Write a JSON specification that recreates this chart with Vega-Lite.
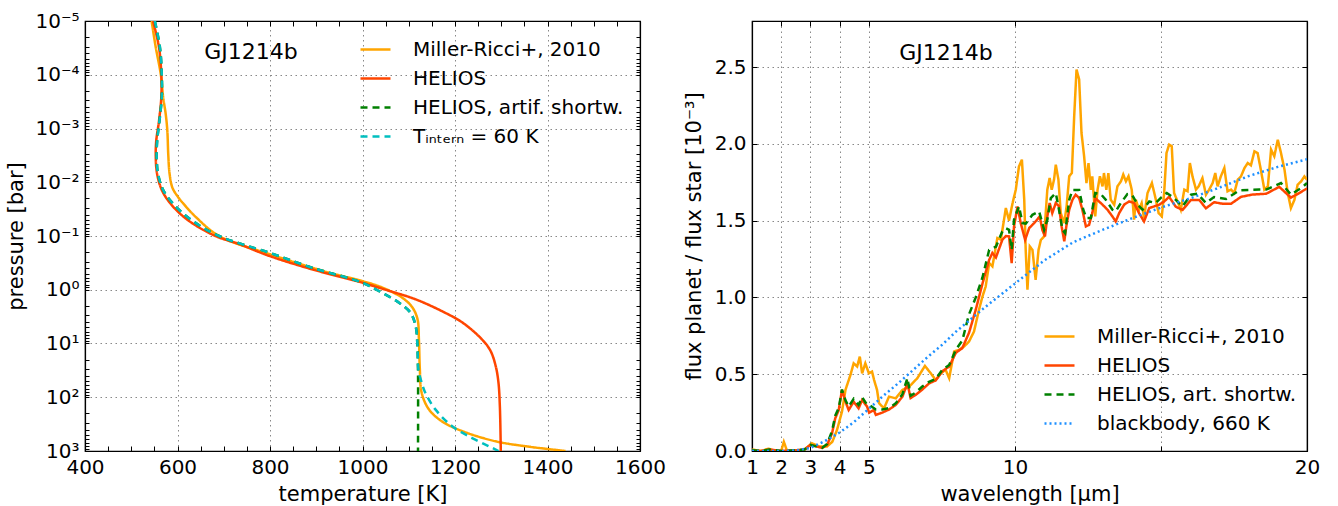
{
  "$schema": "https://vega.github.io/schema/vega-lite/v6.json",
  "background": "white",
  "padding": {"left": 5, "top": 10, "right": 5, "bottom": 5},
  "bounds": "flush",
  "spacing": 112,
  "config": {
    "font": "DejaVu Sans",
    "view": {"stroke": "black", "strokeWidth": 1.2},
    "axis": {
      "labelFont": "DejaVu Sans", "labelFontSize": 20, "labelColor": "black",
      "titleFont": "DejaVu Sans", "titleFontSize": 21, "titleFontWeight": "normal", "titleColor": "black",
      "tickColor": "black", "tickSize": -5, "tickWidth": 1,
      "domainColor": "black", "domainWidth": 1.2,
      "gridColor": "#888888", "gridDash": [1.5, 3.5], "gridWidth": 1,
      "labelPadding": 11
    },
    "legend": {
      "orient": "none", "title": null,
      "labelFont": "DejaVu Sans", "labelFontSize": 20, "labelColor": "black", "labelLimit": 0,
      "symbolType": "stroke", "symbolSize": 900, "symbolStrokeWidth": 2.5,
      "labelOffset": 21, "rowPadding": 2
    }
  },
  "datasets": {
    "tp": [
      {"series": "Miller-Ricci+, 2010", "T": 544, "P": 1e-5},
      {"series": "Miller-Ricci+, 2010", "T": 553, "P": 3.09e-5},
      {"series": "Miller-Ricci+, 2010", "T": 564, "P": 1e-4},
      {"series": "Miller-Ricci+, 2010", "T": 569, "P": 2.63e-4},
      {"series": "Miller-Ricci+, 2010", "T": 574.5, "P": 5.37e-4},
      {"series": "Miller-Ricci+, 2010", "T": 578, "P": 1.10e-3},
      {"series": "Miller-Ricci+, 2010", "T": 580, "P": 3.02e-3},
      {"series": "Miller-Ricci+, 2010", "T": 583, "P": 7.08e-3},
      {"series": "Miller-Ricci+, 2010", "T": 589, "P": 1.26e-2},
      {"series": "Miller-Ricci+, 2010", "T": 600, "P": 1.82e-2},
      {"series": "Miller-Ricci+, 2010", "T": 614, "P": 2.57e-2},
      {"series": "Miller-Ricci+, 2010", "T": 640, "P": 4.47e-2},
      {"series": "Miller-Ricci+, 2010", "T": 690, "P": 0.1},
      {"series": "Miller-Ricci+, 2010", "T": 800, "P": 0.219},
      {"series": "Miller-Ricci+, 2010", "T": 927, "P": 0.479},
      {"series": "Miller-Ricci+, 2010", "T": 1000, "P": 0.692},
      {"series": "Miller-Ricci+, 2010", "T": 1043, "P": 0.912},
      {"series": "Miller-Ricci+, 2010", "T": 1086, "P": 1.41},
      {"series": "Miller-Ricci+, 2010", "T": 1108, "P": 2.14},
      {"series": "Miller-Ricci+, 2010", "T": 1119, "P": 3.55},
      {"series": "Miller-Ricci+, 2010", "T": 1122, "P": 8.51},
      {"series": "Miller-Ricci+, 2010", "T": 1124, "P": 30.2},
      {"series": "Miller-Ricci+, 2010", "T": 1128, "P": 83.2},
      {"series": "Miller-Ricci+, 2010", "T": 1144, "P": 170},
      {"series": "Miller-Ricci+, 2010", "T": 1172, "P": 282},
      {"series": "Miller-Ricci+, 2010", "T": 1216, "P": 427},
      {"series": "Miller-Ricci+, 2010", "T": 1288, "P": 661},
      {"series": "Miller-Ricci+, 2010", "T": 1360, "P": 832},
      {"series": "Miller-Ricci+, 2010", "T": 1439, "P": 1000},

      {"series": "HELIOS", "T": 547, "P": 1e-5},
      {"series": "HELIOS", "T": 560, "P": 3.09e-5},
      {"series": "HELIOS", "T": 565, "P": 1e-4},
      {"series": "HELIOS", "T": 565, "P": 2.63e-4},
      {"series": "HELIOS", "T": 560, "P": 7.24e-4},
      {"series": "HELIOS", "T": 554, "P": 1.70e-3},
      {"series": "HELIOS", "T": 553, "P": 3.47e-3},
      {"series": "HELIOS", "T": 556, "P": 7.08e-3},
      {"series": "HELIOS", "T": 567, "P": 1.45e-2},
      {"series": "HELIOS", "T": 589, "P": 2.75e-2},
      {"series": "HELIOS", "T": 625, "P": 5.25e-2},
      {"series": "HELIOS", "T": 682, "P": 0.1},
      {"series": "HELIOS", "T": 733, "P": 0.141},
      {"series": "HELIOS", "T": 798, "P": 0.234},
      {"series": "HELIOS", "T": 891, "P": 0.417},
      {"series": "HELIOS", "T": 1000, "P": 0.741},
      {"series": "HELIOS", "T": 1050, "P": 1.0},
      {"series": "HELIOS", "T": 1115, "P": 1.51},
      {"series": "HELIOS", "T": 1172, "P": 2.51},
      {"series": "HELIOS", "T": 1216, "P": 4.07},
      {"series": "HELIOS", "T": 1259, "P": 8.51},
      {"series": "HELIOS", "T": 1277, "P": 13.8},
      {"series": "HELIOS", "T": 1288, "P": 26.3},
      {"series": "HELIOS", "T": 1294, "P": 53.7},
      {"series": "HELIOS", "T": 1297, "P": 148},
      {"series": "HELIOS", "T": 1299, "P": 1000},

      {"series": "HELIOS, artif. shortw.", "T": 551, "P": 1e-5},
      {"series": "HELIOS, artif. shortw.", "T": 562, "P": 3.09e-5},
      {"series": "HELIOS, artif. shortw.", "T": 566, "P": 1e-4},
      {"series": "HELIOS, artif. shortw.", "T": 566, "P": 2.63e-4},
      {"series": "HELIOS, artif. shortw.", "T": 561, "P": 7.24e-4},
      {"series": "HELIOS, artif. shortw.", "T": 556, "P": 1.70e-3},
      {"series": "HELIOS, artif. shortw.", "T": 555, "P": 3.47e-3},
      {"series": "HELIOS, artif. shortw.", "T": 558, "P": 7.08e-3},
      {"series": "HELIOS, artif. shortw.", "T": 570, "P": 1.45e-2},
      {"series": "HELIOS, artif. shortw.", "T": 595, "P": 2.75e-2},
      {"series": "HELIOS, artif. shortw.", "T": 633, "P": 5.25e-2},
      {"series": "HELIOS, artif. shortw.", "T": 690, "P": 0.1},
      {"series": "HELIOS, artif. shortw.", "T": 798, "P": 0.204},
      {"series": "HELIOS, artif. shortw.", "T": 891, "P": 0.389},
      {"series": "HELIOS, artif. shortw.", "T": 1000, "P": 0.741},
      {"series": "HELIOS, artif. shortw.", "T": 1043, "P": 1.15},
      {"series": "HELIOS, artif. shortw.", "T": 1079, "P": 1.74},
      {"series": "HELIOS, artif. shortw.", "T": 1104, "P": 2.69},
      {"series": "HELIOS, artif. shortw.", "T": 1115, "P": 4.79},
      {"series": "HELIOS, artif. shortw.", "T": 1118.5, "P": 9.77},
      {"series": "HELIOS, artif. shortw.", "T": 1120, "P": 31.6},
      {"series": "HELIOS, artif. shortw.", "T": 1120, "P": 1000},

      {"series": "Tᵢₙₜₑᵣₙ = 60 K", "T": 551, "P": 1e-5},
      {"series": "Tᵢₙₜₑᵣₙ = 60 K", "T": 562, "P": 3.09e-5},
      {"series": "Tᵢₙₜₑᵣₙ = 60 K", "T": 566, "P": 1e-4},
      {"series": "Tᵢₙₜₑᵣₙ = 60 K", "T": 566, "P": 2.63e-4},
      {"series": "Tᵢₙₜₑᵣₙ = 60 K", "T": 561, "P": 7.24e-4},
      {"series": "Tᵢₙₜₑᵣₙ = 60 K", "T": 556, "P": 1.70e-3},
      {"series": "Tᵢₙₜₑᵣₙ = 60 K", "T": 555, "P": 3.47e-3},
      {"series": "Tᵢₙₜₑᵣₙ = 60 K", "T": 558, "P": 7.08e-3},
      {"series": "Tᵢₙₜₑᵣₙ = 60 K", "T": 570, "P": 1.45e-2},
      {"series": "Tᵢₙₜₑᵣₙ = 60 K", "T": 595, "P": 2.75e-2},
      {"series": "Tᵢₙₜₑᵣₙ = 60 K", "T": 633, "P": 5.25e-2},
      {"series": "Tᵢₙₜₑᵣₙ = 60 K", "T": 690, "P": 0.1},
      {"series": "Tᵢₙₜₑᵣₙ = 60 K", "T": 798, "P": 0.204},
      {"series": "Tᵢₙₜₑᵣₙ = 60 K", "T": 891, "P": 0.389},
      {"series": "Tᵢₙₜₑᵣₙ = 60 K", "T": 1000, "P": 0.741},
      {"series": "Tᵢₙₜₑᵣₙ = 60 K", "T": 1043, "P": 1.15},
      {"series": "Tᵢₙₜₑᵣₙ = 60 K", "T": 1079, "P": 1.74},
      {"series": "Tᵢₙₜₑᵣₙ = 60 K", "T": 1104, "P": 2.69},
      {"series": "Tᵢₙₜₑᵣₙ = 60 K", "T": 1115, "P": 4.79},
      {"series": "Tᵢₙₜₑᵣₙ = 60 K", "T": 1118.5, "P": 9.77},
      {"series": "Tᵢₙₜₑᵣₙ = 60 K", "T": 1121, "P": 31.6},
      {"series": "Tᵢₙₜₑᵣₙ = 60 K", "T": 1126, "P": 46.8},
      {"series": "Tᵢₙₜₑᵣₙ = 60 K", "T": 1136, "P": 83.2},
      {"series": "Tᵢₙₜₑᵣₙ = 60 K", "T": 1158, "P": 170},
      {"series": "Tᵢₙₜₑᵣₙ = 60 K", "T": 1194, "P": 347},
      {"series": "Tᵢₙₜₑᵣₙ = 60 K", "T": 1237, "P": 575},
      {"series": "Tᵢₙₜₑᵣₙ = 60 K", "T": 1273, "P": 813},
      {"series": "Tᵢₙₜₑᵣₙ = 60 K", "T": 1294, "P": 1000}
    ],
    "spec": [
      {"s": "Miller-Ricci+, 2010", "wl": 1.0, "F": 0.01},
      {"s": "Miller-Ricci+, 2010", "wl": 1.3, "F": 0.0},
      {"s": "Miller-Ricci+, 2010", "wl": 1.57, "F": 0.015},
      {"s": "Miller-Ricci+, 2010", "wl": 1.8, "F": 0.0},
      {"s": "Miller-Ricci+, 2010", "wl": 2.0, "F": 0.0},
      {"s": "Miller-Ricci+, 2010", "wl": 2.09, "F": 0.06},
      {"s": "Miller-Ricci+, 2010", "wl": 2.2, "F": 0.0},
      {"s": "Miller-Ricci+, 2010", "wl": 2.5, "F": 0.0},
      {"s": "Miller-Ricci+, 2010", "wl": 2.8, "F": 0.01},
      {"s": "Miller-Ricci+, 2010", "wl": 3.05, "F": 0.05},
      {"s": "Miller-Ricci+, 2010", "wl": 3.3, "F": 0.03},
      {"s": "Miller-Ricci+, 2010", "wl": 3.57, "F": 0.03},
      {"s": "Miller-Ricci+, 2010", "wl": 3.75, "F": 0.06},
      {"s": "Miller-Ricci+, 2010", "wl": 3.91, "F": 0.137},
      {"s": "Miller-Ricci+, 2010", "wl": 4.08, "F": 0.256},
      {"s": "Miller-Ricci+, 2010", "wl": 4.2, "F": 0.398},
      {"s": "Miller-Ricci+, 2010", "wl": 4.37, "F": 0.495},
      {"s": "Miller-Ricci+, 2010", "wl": 4.48, "F": 0.571},
      {"s": "Miller-Ricci+, 2010", "wl": 4.6, "F": 0.55},
      {"s": "Miller-Ricci+, 2010", "wl": 4.69, "F": 0.615},
      {"s": "Miller-Ricci+, 2010", "wl": 4.77, "F": 0.506},
      {"s": "Miller-Ricci+, 2010", "wl": 4.88, "F": 0.571},
      {"s": "Miller-Ricci+, 2010", "wl": 5.0, "F": 0.506},
      {"s": "Miller-Ricci+, 2010", "wl": 5.11, "F": 0.517},
      {"s": "Miller-Ricci+, 2010", "wl": 5.18, "F": 0.462},
      {"s": "Miller-Ricci+, 2010", "wl": 5.28, "F": 0.398},
      {"s": "Miller-Ricci+, 2010", "wl": 5.35, "F": 0.311},
      {"s": "Miller-Ricci+, 2010", "wl": 5.52, "F": 0.278},
      {"s": "Miller-Ricci+, 2010", "wl": 5.69, "F": 0.354},
      {"s": "Miller-Ricci+, 2010", "wl": 5.92, "F": 0.343},
      {"s": "Miller-Ricci+, 2010", "wl": 6.15, "F": 0.398},
      {"s": "Miller-Ricci+, 2010", "wl": 6.38, "F": 0.419},
      {"s": "Miller-Ricci+, 2010", "wl": 6.66, "F": 0.474},
      {"s": "Miller-Ricci+, 2010", "wl": 6.92, "F": 0.554},
      {"s": "Miller-Ricci+, 2010", "wl": 7.12, "F": 0.506},
      {"s": "Miller-Ricci+, 2010", "wl": 7.29, "F": 0.462},
      {"s": "Miller-Ricci+, 2010", "wl": 7.46, "F": 0.506},
      {"s": "Miller-Ricci+, 2010", "wl": 7.63, "F": 0.528},
      {"s": "Miller-Ricci+, 2010", "wl": 7.75, "F": 0.474},
      {"s": "Miller-Ricci+, 2010", "wl": 7.92, "F": 0.648},
      {"s": "Miller-Ricci+, 2010", "wl": 8.09, "F": 0.659},
      {"s": "Miller-Ricci+, 2010", "wl": 8.26, "F": 0.68},
      {"s": "Miller-Ricci+, 2010", "wl": 8.43, "F": 0.713},
      {"s": "Miller-Ricci+, 2010", "wl": 8.6, "F": 0.778},
      {"s": "Miller-Ricci+, 2010", "wl": 8.77, "F": 0.919},
      {"s": "Miller-Ricci+, 2010", "wl": 8.89, "F": 1.006},
      {"s": "Miller-Ricci+, 2010", "wl": 9.0, "F": 1.071},
      {"s": "Miller-Ricci+, 2010", "wl": 9.12, "F": 1.224},
      {"s": "Miller-Ricci+, 2010", "wl": 9.23, "F": 1.202},
      {"s": "Miller-Ricci+, 2010", "wl": 9.4, "F": 1.387},
      {"s": "Miller-Ricci+, 2010", "wl": 9.52, "F": 1.376},
      {"s": "Miller-Ricci+, 2010", "wl": 9.69, "F": 1.582},
      {"s": "Miller-Ricci+, 2010", "wl": 9.8, "F": 1.5},
      {"s": "Miller-Ricci+, 2010", "wl": 9.92, "F": 1.614},
      {"s": "Miller-Ricci+, 2010", "wl": 10.03, "F": 1.701},
      {"s": "Miller-Ricci+, 2010", "wl": 10.14, "F": 1.853},
      {"s": "Miller-Ricci+, 2010", "wl": 10.24, "F": 1.897},
      {"s": "Miller-Ricci+, 2010", "wl": 10.32, "F": 1.636},
      {"s": "Miller-Ricci+, 2010", "wl": 10.37, "F": 1.31},
      {"s": "Miller-Ricci+, 2010", "wl": 10.43, "F": 1.05},
      {"s": "Miller-Ricci+, 2010", "wl": 10.51, "F": 1.332},
      {"s": "Miller-Ricci+, 2010", "wl": 10.6, "F": 1.31},
      {"s": "Miller-Ricci+, 2010", "wl": 10.71, "F": 1.115},
      {"s": "Miller-Ricci+, 2010", "wl": 10.81, "F": 1.31},
      {"s": "Miller-Ricci+, 2010", "wl": 10.89, "F": 1.375},
      {"s": "Miller-Ricci+, 2010", "wl": 11.0, "F": 1.397},
      {"s": "Miller-Ricci+, 2010", "wl": 11.11, "F": 1.701},
      {"s": "Miller-Ricci+, 2010", "wl": 11.19, "F": 1.778},
      {"s": "Miller-Ricci+, 2010", "wl": 11.26, "F": 1.701},
      {"s": "Miller-Ricci+, 2010", "wl": 11.34, "F": 1.767},
      {"s": "Miller-Ricci+, 2010", "wl": 11.4, "F": 1.864},
      {"s": "Miller-Ricci+, 2010", "wl": 11.49, "F": 1.767},
      {"s": "Miller-Ricci+, 2010", "wl": 11.57, "F": 1.549},
      {"s": "Miller-Ricci+, 2010", "wl": 11.69, "F": 1.484},
      {"s": "Miller-Ricci+, 2010", "wl": 11.77, "F": 1.593},
      {"s": "Miller-Ricci+, 2010", "wl": 11.86, "F": 1.789},
      {"s": "Miller-Ricci+, 2010", "wl": 11.95, "F": 1.81},
      {"s": "Miller-Ricci+, 2010", "wl": 12.03, "F": 2.18},
      {"s": "Miller-Ricci+, 2010", "wl": 12.11, "F": 2.484},
      {"s": "Miller-Ricci+, 2010", "wl": 12.2, "F": 2.419},
      {"s": "Miller-Ricci+, 2010", "wl": 12.28, "F": 2.071},
      {"s": "Miller-Ricci+, 2010", "wl": 12.37, "F": 1.919},
      {"s": "Miller-Ricci+, 2010", "wl": 12.45, "F": 1.745},
      {"s": "Miller-Ricci+, 2010", "wl": 12.52, "F": 1.875},
      {"s": "Miller-Ricci+, 2010", "wl": 12.6, "F": 1.701},
      {"s": "Miller-Ricci+, 2010", "wl": 12.65, "F": 1.789},
      {"s": "Miller-Ricci+, 2010", "wl": 12.75, "F": 1.528},
      {"s": "Miller-Ricci+, 2010", "wl": 12.83, "F": 1.701},
      {"s": "Miller-Ricci+, 2010", "wl": 12.91, "F": 1.789},
      {"s": "Miller-Ricci+, 2010", "wl": 13.0, "F": 1.723},
      {"s": "Miller-Ricci+, 2010", "wl": 13.05, "F": 1.81},
      {"s": "Miller-Ricci+, 2010", "wl": 13.13, "F": 1.701},
      {"s": "Miller-Ricci+, 2010", "wl": 13.2, "F": 1.81},
      {"s": "Miller-Ricci+, 2010", "wl": 13.28, "F": 1.636},
      {"s": "Miller-Ricci+, 2010", "wl": 13.4, "F": 1.604},
      {"s": "Miller-Ricci+, 2010", "wl": 13.51, "F": 1.723},
      {"s": "Miller-Ricci+, 2010", "wl": 13.63, "F": 1.756},
      {"s": "Miller-Ricci+, 2010", "wl": 13.71, "F": 1.8},
      {"s": "Miller-Ricci+, 2010", "wl": 13.8, "F": 1.756},
      {"s": "Miller-Ricci+, 2010", "wl": 13.89, "F": 1.789},
      {"s": "Miller-Ricci+, 2010", "wl": 14.0, "F": 1.701},
      {"s": "Miller-Ricci+, 2010", "wl": 14.08, "F": 1.506},
      {"s": "Miller-Ricci+, 2010", "wl": 14.14, "F": 1.636},
      {"s": "Miller-Ricci+, 2010", "wl": 14.25, "F": 1.571},
      {"s": "Miller-Ricci+, 2010", "wl": 14.34, "F": 1.614},
      {"s": "Miller-Ricci+, 2010", "wl": 14.42, "F": 1.517},
      {"s": "Miller-Ricci+, 2010", "wl": 14.54, "F": 1.68},
      {"s": "Miller-Ricci+, 2010", "wl": 14.69, "F": 1.745},
      {"s": "Miller-Ricci+, 2010", "wl": 14.8, "F": 1.658},
      {"s": "Miller-Ricci+, 2010", "wl": 14.92, "F": 1.549},
      {"s": "Miller-Ricci+, 2010", "wl": 15.03, "F": 1.528},
      {"s": "Miller-Ricci+, 2010", "wl": 15.11, "F": 1.68},
      {"s": "Miller-Ricci+, 2010", "wl": 15.19, "F": 1.94},
      {"s": "Miller-Ricci+, 2010", "wl": 15.28, "F": 1.995},
      {"s": "Miller-Ricci+, 2010", "wl": 15.37, "F": 1.984},
      {"s": "Miller-Ricci+, 2010", "wl": 15.45, "F": 1.68},
      {"s": "Miller-Ricci+, 2010", "wl": 15.57, "F": 1.625},
      {"s": "Miller-Ricci+, 2010", "wl": 15.68, "F": 1.571},
      {"s": "Miller-Ricci+, 2010", "wl": 15.8, "F": 1.702},
      {"s": "Miller-Ricci+, 2010", "wl": 15.91, "F": 1.691},
      {"s": "Miller-Ricci+, 2010", "wl": 15.99, "F": 1.875},
      {"s": "Miller-Ricci+, 2010", "wl": 16.08, "F": 1.788},
      {"s": "Miller-Ricci+, 2010", "wl": 16.2, "F": 1.702},
      {"s": "Miller-Ricci+, 2010", "wl": 16.29, "F": 1.723},
      {"s": "Miller-Ricci+, 2010", "wl": 16.42, "F": 1.777},
      {"s": "Miller-Ricci+, 2010", "wl": 16.54, "F": 1.669},
      {"s": "Miller-Ricci+, 2010", "wl": 16.65, "F": 1.702},
      {"s": "Miller-Ricci+, 2010", "wl": 16.77, "F": 1.745},
      {"s": "Miller-Ricci+, 2010", "wl": 16.86, "F": 1.81},
      {"s": "Miller-Ricci+, 2010", "wl": 16.94, "F": 1.723},
      {"s": "Miller-Ricci+, 2010", "wl": 17.05, "F": 1.788},
      {"s": "Miller-Ricci+, 2010", "wl": 17.17, "F": 1.843},
      {"s": "Miller-Ricci+, 2010", "wl": 17.28, "F": 1.691},
      {"s": "Miller-Ricci+, 2010", "wl": 17.4, "F": 1.702},
      {"s": "Miller-Ricci+, 2010", "wl": 17.51, "F": 1.68},
      {"s": "Miller-Ricci+, 2010", "wl": 17.63, "F": 1.767},
      {"s": "Miller-Ricci+, 2010", "wl": 17.74, "F": 1.788},
      {"s": "Miller-Ricci+, 2010", "wl": 17.86, "F": 1.843},
      {"s": "Miller-Ricci+, 2010", "wl": 17.97, "F": 1.875},
      {"s": "Miller-Ricci+, 2010", "wl": 18.08, "F": 1.86},
      {"s": "Miller-Ricci+, 2010", "wl": 18.2, "F": 1.951},
      {"s": "Miller-Ricci+, 2010", "wl": 18.31, "F": 1.94},
      {"s": "Miller-Ricci+, 2010", "wl": 18.43, "F": 1.821},
      {"s": "Miller-Ricci+, 2010", "wl": 18.54, "F": 1.702},
      {"s": "Miller-Ricci+, 2010", "wl": 18.66, "F": 1.723},
      {"s": "Miller-Ricci+, 2010", "wl": 18.77, "F": 1.962},
      {"s": "Miller-Ricci+, 2010", "wl": 18.88, "F": 1.919},
      {"s": "Miller-Ricci+, 2010", "wl": 19.0, "F": 2.027},
      {"s": "Miller-Ricci+, 2010", "wl": 19.11, "F": 1.94},
      {"s": "Miller-Ricci+, 2010", "wl": 19.23, "F": 1.832},
      {"s": "Miller-Ricci+, 2010", "wl": 19.34, "F": 1.68},
      {"s": "Miller-Ricci+, 2010", "wl": 19.45, "F": 1.582},
      {"s": "Miller-Ricci+, 2010", "wl": 19.57, "F": 1.636},
      {"s": "Miller-Ricci+, 2010", "wl": 19.68, "F": 1.734},
      {"s": "Miller-Ricci+, 2010", "wl": 19.8, "F": 1.756},
      {"s": "Miller-Ricci+, 2010", "wl": 19.91, "F": 1.788},
      {"s": "Miller-Ricci+, 2010", "wl": 20.0, "F": 1.767},

      {"s": "HELIOS", "wl": 1.0, "F": 0.005},
      {"s": "HELIOS", "wl": 1.3, "F": 0.0},
      {"s": "HELIOS", "wl": 1.6, "F": 0.01},
      {"s": "HELIOS", "wl": 2.0, "F": 0.0},
      {"s": "HELIOS", "wl": 2.5, "F": 0.005},
      {"s": "HELIOS", "wl": 2.8, "F": 0.01},
      {"s": "HELIOS", "wl": 3.0, "F": 0.04},
      {"s": "HELIOS", "wl": 3.2, "F": 0.03},
      {"s": "HELIOS", "wl": 3.4, "F": 0.02},
      {"s": "HELIOS", "wl": 3.57, "F": 0.039},
      {"s": "HELIOS", "wl": 3.74, "F": 0.115},
      {"s": "HELIOS", "wl": 3.85, "F": 0.213},
      {"s": "HELIOS", "wl": 3.97, "F": 0.267},
      {"s": "HELIOS", "wl": 4.08, "F": 0.398},
      {"s": "HELIOS", "wl": 4.2, "F": 0.321},
      {"s": "HELIOS", "wl": 4.31, "F": 0.267},
      {"s": "HELIOS", "wl": 4.48, "F": 0.321},
      {"s": "HELIOS", "wl": 4.65, "F": 0.278},
      {"s": "HELIOS", "wl": 4.77, "F": 0.332},
      {"s": "HELIOS", "wl": 4.94, "F": 0.289},
      {"s": "HELIOS", "wl": 5.01, "F": 0.25},
      {"s": "HELIOS", "wl": 5.17, "F": 0.267},
      {"s": "HELIOS", "wl": 5.24, "F": 0.235},
      {"s": "HELIOS", "wl": 5.46, "F": 0.25},
      {"s": "HELIOS", "wl": 5.69, "F": 0.27},
      {"s": "HELIOS", "wl": 5.92, "F": 0.3},
      {"s": "HELIOS", "wl": 6.15, "F": 0.354},
      {"s": "HELIOS", "wl": 6.32, "F": 0.44},
      {"s": "HELIOS", "wl": 6.43, "F": 0.345},
      {"s": "HELIOS", "wl": 6.6, "F": 0.365},
      {"s": "HELIOS", "wl": 6.83, "F": 0.4},
      {"s": "HELIOS", "wl": 7.06, "F": 0.44},
      {"s": "HELIOS", "wl": 7.29, "F": 0.46},
      {"s": "HELIOS", "wl": 7.52, "F": 0.52},
      {"s": "HELIOS", "wl": 7.75, "F": 0.55},
      {"s": "HELIOS", "wl": 7.98, "F": 0.64},
      {"s": "HELIOS", "wl": 8.2, "F": 0.67},
      {"s": "HELIOS", "wl": 8.43, "F": 0.77},
      {"s": "HELIOS", "wl": 8.66, "F": 0.92},
      {"s": "HELIOS", "wl": 8.89, "F": 1.09},
      {"s": "HELIOS", "wl": 9.12, "F": 1.245},
      {"s": "HELIOS", "wl": 9.23, "F": 1.29},
      {"s": "HELIOS", "wl": 9.35, "F": 1.26},
      {"s": "HELIOS", "wl": 9.57, "F": 1.375},
      {"s": "HELIOS", "wl": 9.69, "F": 1.4},
      {"s": "HELIOS", "wl": 9.8, "F": 1.397},
      {"s": "HELIOS", "wl": 9.89, "F": 1.223},
      {"s": "HELIOS", "wl": 9.97, "F": 1.462},
      {"s": "HELIOS", "wl": 10.09, "F": 1.593},
      {"s": "HELIOS", "wl": 10.2, "F": 1.484},
      {"s": "HELIOS", "wl": 10.35, "F": 1.375},
      {"s": "HELIOS", "wl": 10.49, "F": 1.452},
      {"s": "HELIOS", "wl": 10.66, "F": 1.484},
      {"s": "HELIOS", "wl": 10.85, "F": 1.527},
      {"s": "HELIOS", "wl": 10.94, "F": 1.44},
      {"s": "HELIOS", "wl": 11.03, "F": 1.397},
      {"s": "HELIOS", "wl": 11.11, "F": 1.527},
      {"s": "HELIOS", "wl": 11.19, "F": 1.615},
      {"s": "HELIOS", "wl": 11.28, "F": 1.549},
      {"s": "HELIOS", "wl": 11.4, "F": 1.615},
      {"s": "HELIOS", "wl": 11.51, "F": 1.593},
      {"s": "HELIOS", "wl": 11.6, "F": 1.462},
      {"s": "HELIOS", "wl": 11.69, "F": 1.365},
      {"s": "HELIOS", "wl": 11.76, "F": 1.462},
      {"s": "HELIOS", "wl": 11.86, "F": 1.571},
      {"s": "HELIOS", "wl": 11.97, "F": 1.636},
      {"s": "HELIOS", "wl": 12.08, "F": 1.669},
      {"s": "HELIOS", "wl": 12.2, "F": 1.647},
      {"s": "HELIOS", "wl": 12.31, "F": 1.571},
      {"s": "HELIOS", "wl": 12.43, "F": 1.462},
      {"s": "HELIOS", "wl": 12.54, "F": 1.473},
      {"s": "HELIOS", "wl": 12.65, "F": 1.549},
      {"s": "HELIOS", "wl": 12.75, "F": 1.647},
      {"s": "HELIOS", "wl": 12.88, "F": 1.625},
      {"s": "HELIOS", "wl": 13.0, "F": 1.604},
      {"s": "HELIOS", "wl": 13.17, "F": 1.571},
      {"s": "HELIOS", "wl": 13.34, "F": 1.527},
      {"s": "HELIOS", "wl": 13.45, "F": 1.495},
      {"s": "HELIOS", "wl": 13.57, "F": 1.549},
      {"s": "HELIOS", "wl": 13.74, "F": 1.604},
      {"s": "HELIOS", "wl": 13.91, "F": 1.625},
      {"s": "HELIOS", "wl": 14.08, "F": 1.615},
      {"s": "HELIOS", "wl": 14.25, "F": 1.549},
      {"s": "HELIOS", "wl": 14.42, "F": 1.495},
      {"s": "HELIOS", "wl": 14.6, "F": 1.582},
      {"s": "HELIOS", "wl": 14.77, "F": 1.593},
      {"s": "HELIOS", "wl": 14.94, "F": 1.604},
      {"s": "HELIOS", "wl": 15.11, "F": 1.625},
      {"s": "HELIOS", "wl": 15.28, "F": 1.655},
      {"s": "HELIOS", "wl": 15.51, "F": 1.59},
      {"s": "HELIOS", "wl": 15.74, "F": 1.57},
      {"s": "HELIOS", "wl": 16.03, "F": 1.635},
      {"s": "HELIOS", "wl": 16.31, "F": 1.635},
      {"s": "HELIOS", "wl": 16.54, "F": 1.58},
      {"s": "HELIOS", "wl": 16.82, "F": 1.62},
      {"s": "HELIOS", "wl": 17.11, "F": 1.61},
      {"s": "HELIOS", "wl": 17.4, "F": 1.61},
      {"s": "HELIOS", "wl": 17.74, "F": 1.655},
      {"s": "HELIOS", "wl": 18.14, "F": 1.67},
      {"s": "HELIOS", "wl": 18.6, "F": 1.675},
      {"s": "HELIOS", "wl": 19.05, "F": 1.72},
      {"s": "HELIOS", "wl": 19.45, "F": 1.65},
      {"s": "HELIOS", "wl": 19.74, "F": 1.68},
      {"s": "HELIOS", "wl": 20.0, "F": 1.71},

      {"s": "HELIOS, art. shortw.", "wl": 1.0, "F": 0.005},
      {"s": "HELIOS, art. shortw.", "wl": 1.3, "F": 0.0},
      {"s": "HELIOS, art. shortw.", "wl": 1.6, "F": 0.01},
      {"s": "HELIOS, art. shortw.", "wl": 2.0, "F": 0.0},
      {"s": "HELIOS, art. shortw.", "wl": 2.5, "F": 0.005},
      {"s": "HELIOS, art. shortw.", "wl": 2.8, "F": 0.01},
      {"s": "HELIOS, art. shortw.", "wl": 3.0, "F": 0.04},
      {"s": "HELIOS, art. shortw.", "wl": 3.2, "F": 0.03},
      {"s": "HELIOS, art. shortw.", "wl": 3.4, "F": 0.02},
      {"s": "HELIOS, art. shortw.", "wl": 3.57, "F": 0.045},
      {"s": "HELIOS, art. shortw.", "wl": 3.74, "F": 0.13},
      {"s": "HELIOS, art. shortw.", "wl": 3.85, "F": 0.23},
      {"s": "HELIOS, art. shortw.", "wl": 3.97, "F": 0.28},
      {"s": "HELIOS, art. shortw.", "wl": 4.08, "F": 0.4},
      {"s": "HELIOS, art. shortw.", "wl": 4.2, "F": 0.33},
      {"s": "HELIOS, art. shortw.", "wl": 4.31, "F": 0.29},
      {"s": "HELIOS, art. shortw.", "wl": 4.48, "F": 0.34},
      {"s": "HELIOS, art. shortw.", "wl": 4.65, "F": 0.3},
      {"s": "HELIOS, art. shortw.", "wl": 4.77, "F": 0.35},
      {"s": "HELIOS, art. shortw.", "wl": 4.94, "F": 0.3},
      {"s": "HELIOS, art. shortw.", "wl": 5.01, "F": 0.3},
      {"s": "HELIOS, art. shortw.", "wl": 5.24, "F": 0.27},
      {"s": "HELIOS, art. shortw.", "wl": 5.46, "F": 0.27},
      {"s": "HELIOS, art. shortw.", "wl": 5.69, "F": 0.28},
      {"s": "HELIOS, art. shortw.", "wl": 5.92, "F": 0.31},
      {"s": "HELIOS, art. shortw.", "wl": 6.15, "F": 0.37},
      {"s": "HELIOS, art. shortw.", "wl": 6.32, "F": 0.475},
      {"s": "HELIOS, art. shortw.", "wl": 6.43, "F": 0.36},
      {"s": "HELIOS, art. shortw.", "wl": 6.6, "F": 0.38},
      {"s": "HELIOS, art. shortw.", "wl": 6.83, "F": 0.42},
      {"s": "HELIOS, art. shortw.", "wl": 7.06, "F": 0.45},
      {"s": "HELIOS, art. shortw.", "wl": 7.29, "F": 0.47},
      {"s": "HELIOS, art. shortw.", "wl": 7.52, "F": 0.53},
      {"s": "HELIOS, art. shortw.", "wl": 7.75, "F": 0.56},
      {"s": "HELIOS, art. shortw.", "wl": 7.98, "F": 0.66},
      {"s": "HELIOS, art. shortw.", "wl": 8.2, "F": 0.72},
      {"s": "HELIOS, art. shortw.", "wl": 8.43, "F": 0.89},
      {"s": "HELIOS, art. shortw.", "wl": 8.66, "F": 1.0},
      {"s": "HELIOS, art. shortw.", "wl": 8.89, "F": 1.13},
      {"s": "HELIOS, art. shortw.", "wl": 9.12, "F": 1.31},
      {"s": "HELIOS, art. shortw.", "wl": 9.23, "F": 1.32},
      {"s": "HELIOS, art. shortw.", "wl": 9.35, "F": 1.33},
      {"s": "HELIOS, art. shortw.", "wl": 9.57, "F": 1.43},
      {"s": "HELIOS, art. shortw.", "wl": 9.69, "F": 1.45},
      {"s": "HELIOS, art. shortw.", "wl": 9.8, "F": 1.44},
      {"s": "HELIOS, art. shortw.", "wl": 9.89, "F": 1.31},
      {"s": "HELIOS, art. shortw.", "wl": 9.97, "F": 1.506},
      {"s": "HELIOS, art. shortw.", "wl": 10.14, "F": 1.593},
      {"s": "HELIOS, art. shortw.", "wl": 10.26, "F": 1.484},
      {"s": "HELIOS, art. shortw.", "wl": 10.37, "F": 1.48},
      {"s": "HELIOS, art. shortw.", "wl": 10.6, "F": 1.538},
      {"s": "HELIOS, art. shortw.", "wl": 10.83, "F": 1.56},
      {"s": "HELIOS, art. shortw.", "wl": 11.0, "F": 1.44},
      {"s": "HELIOS, art. shortw.", "wl": 11.11, "F": 1.506},
      {"s": "HELIOS, art. shortw.", "wl": 11.23, "F": 1.647},
      {"s": "HELIOS, art. shortw.", "wl": 11.4, "F": 1.68},
      {"s": "HELIOS, art. shortw.", "wl": 11.51, "F": 1.571},
      {"s": "HELIOS, art. shortw.", "wl": 11.63, "F": 1.44},
      {"s": "HELIOS, art. shortw.", "wl": 11.72, "F": 1.419},
      {"s": "HELIOS, art. shortw.", "wl": 11.86, "F": 1.636},
      {"s": "HELIOS, art. shortw.", "wl": 11.97, "F": 1.7},
      {"s": "HELIOS, art. shortw.", "wl": 12.2, "F": 1.7},
      {"s": "HELIOS, art. shortw.", "wl": 12.34, "F": 1.571},
      {"s": "HELIOS, art. shortw.", "wl": 12.45, "F": 1.517},
      {"s": "HELIOS, art. shortw.", "wl": 12.6, "F": 1.517},
      {"s": "HELIOS, art. shortw.", "wl": 12.75, "F": 1.68},
      {"s": "HELIOS, art. shortw.", "wl": 12.94, "F": 1.673},
      {"s": "HELIOS, art. shortw.", "wl": 13.11, "F": 1.636},
      {"s": "HELIOS, art. shortw.", "wl": 13.34, "F": 1.571},
      {"s": "HELIOS, art. shortw.", "wl": 13.45, "F": 1.56},
      {"s": "HELIOS, art. shortw.", "wl": 13.63, "F": 1.615},
      {"s": "HELIOS, art. shortw.", "wl": 13.85, "F": 1.673},
      {"s": "HELIOS, art. shortw.", "wl": 14.02, "F": 1.665},
      {"s": "HELIOS, art. shortw.", "wl": 14.2, "F": 1.604},
      {"s": "HELIOS, art. shortw.", "wl": 14.37, "F": 1.571},
      {"s": "HELIOS, art. shortw.", "wl": 14.6, "F": 1.625},
      {"s": "HELIOS, art. shortw.", "wl": 14.82, "F": 1.615},
      {"s": "HELIOS, art. shortw.", "wl": 15.05, "F": 1.658},
      {"s": "HELIOS, art. shortw.", "wl": 15.2, "F": 1.68},
      {"s": "HELIOS, art. shortw.", "wl": 15.4, "F": 1.654},
      {"s": "HELIOS, art. shortw.", "wl": 15.74, "F": 1.593},
      {"s": "HELIOS, art. shortw.", "wl": 16.03, "F": 1.669},
      {"s": "HELIOS, art. shortw.", "wl": 16.25, "F": 1.675},
      {"s": "HELIOS, art. shortw.", "wl": 16.54, "F": 1.615},
      {"s": "HELIOS, art. shortw.", "wl": 16.82, "F": 1.654},
      {"s": "HELIOS, art. shortw.", "wl": 17.23, "F": 1.641},
      {"s": "HELIOS, art. shortw.", "wl": 17.68, "F": 1.697},
      {"s": "HELIOS, art. shortw.", "wl": 18.36, "F": 1.702},
      {"s": "HELIOS, art. shortw.", "wl": 18.6, "F": 1.702},
      {"s": "HELIOS, art. shortw.", "wl": 19.11, "F": 1.745},
      {"s": "HELIOS, art. shortw.", "wl": 19.45, "F": 1.67},
      {"s": "HELIOS, art. shortw.", "wl": 19.8, "F": 1.712},
      {"s": "HELIOS, art. shortw.", "wl": 20.0, "F": 1.745},

      {"s": "blackbody, 660 K", "wl": 1.0, "F": 0.0},
      {"s": "blackbody, 660 K", "wl": 2.0, "F": 0.0},
      {"s": "blackbody, 660 K", "wl": 2.5, "F": 0.004},
      {"s": "blackbody, 660 K", "wl": 3.0, "F": 0.02},
      {"s": "blackbody, 660 K", "wl": 3.5, "F": 0.065},
      {"s": "blackbody, 660 K", "wl": 4.0, "F": 0.12},
      {"s": "blackbody, 660 K", "wl": 4.5, "F": 0.19},
      {"s": "blackbody, 660 K", "wl": 5.0, "F": 0.275},
      {"s": "blackbody, 660 K", "wl": 5.5, "F": 0.36},
      {"s": "blackbody, 660 K", "wl": 6.0, "F": 0.44},
      {"s": "blackbody, 660 K", "wl": 6.5, "F": 0.525},
      {"s": "blackbody, 660 K", "wl": 7.0, "F": 0.61},
      {"s": "blackbody, 660 K", "wl": 7.5, "F": 0.69},
      {"s": "blackbody, 660 K", "wl": 8.0, "F": 0.78},
      {"s": "blackbody, 660 K", "wl": 8.5, "F": 0.86},
      {"s": "blackbody, 660 K", "wl": 9.0, "F": 0.94},
      {"s": "blackbody, 660 K", "wl": 9.5, "F": 1.015},
      {"s": "blackbody, 660 K", "wl": 10.0, "F": 1.09},
      {"s": "blackbody, 660 K", "wl": 11.0, "F": 1.24},
      {"s": "blackbody, 660 K", "wl": 12.0, "F": 1.36},
      {"s": "blackbody, 660 K", "wl": 13.0, "F": 1.44},
      {"s": "blackbody, 660 K", "wl": 14.0, "F": 1.515},
      {"s": "blackbody, 660 K", "wl": 15.0, "F": 1.585},
      {"s": "blackbody, 660 K", "wl": 16.0, "F": 1.645},
      {"s": "blackbody, 660 K", "wl": 17.0, "F": 1.715},
      {"s": "blackbody, 660 K", "wl": 18.0, "F": 1.79},
      {"s": "blackbody, 660 K", "wl": 19.0, "F": 1.85},
      {"s": "blackbody, 660 K", "wl": 20.0, "F": 1.9}
    ],
    "note": [{"label": "GJ1214b"}]
  },
  "resolve": {"scale": {"color": "independent", "strokeDash": "independent", "x": "independent", "y": "independent"}},
  "hconcat": [
    {
      "width": 555,
      "height": 430,
      "resolve": {"axis": {"x": "independent", "y": "independent"}},
      "layer": [
        {
          "data": {"name": "tp"},
          "mark": {"type": "line", "strokeWidth": 2.5, "interpolate": "catmull-rom", "clip": true},
          "encoding": {
            "x": {
              "field": "T", "type": "quantitative",
              "scale": {"domain": [400, 1600], "nice": false, "zero": false},
              "axis": {
                "orient": "bottom", "title": "temperature [K]",
                "values": [400, 450, 500, 550, 600, 650, 700, 750, 800, 850, 900, 950, 1000, 1050, 1100, 1150, 1200, 1250, 1300, 1350, 1400, 1450, 1500, 1550, 1600],
                "format": "d",
                "labelExpr": "datum.value % 200 == 0 ? datum.label : ''",
                "gridOpacity": {"condition": {"test": "datum.value % 200 == 0", "value": 1}, "value": 0},
                "grid": true, "labelFlush": false, "labelOverlap": false, "titlePadding": 6
              }
            },
            "y": {
              "field": "P", "type": "quantitative",
              "scale": {"type": "log", "domain": [1e-5, 1000], "reverse": true, "nice": false},
              "axis": {
                "orient": "left", "title": "pressure [bar]",
                "values": [1e-5, 2e-5, 3e-5, 4e-5, 5e-5, 6e-5, 7e-5, 8e-5, 9e-5, 1e-4, 2e-4, 3e-4, 4e-4, 5e-4, 6e-4, 7e-4, 8e-4, 9e-4, 1e-3, 2e-3, 3e-3, 4e-3, 5e-3, 6e-3, 7e-3, 8e-3, 9e-3, 1e-2, 2e-2, 3e-2, 4e-2, 5e-2, 6e-2, 7e-2, 8e-2, 9e-2, 0.1, 0.2, 0.3, 0.4, 0.5, 0.6, 0.7, 0.8, 0.9, 1, 2, 3, 4, 5, 6, 7, 8, 9, 10, 20, 30, 40, 50, 60, 70, 80, 90, 100, 200, 300, 400, 500, 600, 700, 800, 900, 1000],
                "labelExpr": "abs(log(datum.value)/LN10 - round(log(datum.value)/LN10)) < 0.001 ? ['10⁻⁵','10⁻⁴','10⁻³','10⁻²','10⁻¹','10⁰','10¹','10²','10³'][round(log(datum.value)/LN10)+5] : ''",
                "gridOpacity": {"condition": {"test": "abs(log(datum.value)/LN10 - round(log(datum.value)/LN10)) < 0.001", "value": 1}, "value": 0},
                "tickSize": -4,
                "grid": true, "labelFlush": false, "labelOverlap": false, "labelPadding": 10, "titlePadding": 8
              }
            },
            "color": {
              "field": "series", "type": "nominal",
              "scale": {"domain": ["Miller-Ricci+, 2010", "HELIOS", "HELIOS, artif. shortw.", "Tᵢₙₜₑᵣₙ = 60 K"], "range": ["#ffa500", "#ff4500", "#008000", "#00bfbf"]},
              "legend": {"legendX": 274, "legendY": 12}
            },
            "strokeDash": {
              "field": "series", "type": "nominal",
              "scale": {"domain": ["Miller-Ricci+, 2010", "HELIOS", "HELIOS, artif. shortw.", "Tᵢₙₜₑᵣₙ = 60 K"], "range": [[1, 0], [1, 0], [7, 5], [7, 5]]},
              "legend": {"legendX": 274, "legendY": 12}
            },
            "order": {"field": "P", "type": "quantitative"}
          }
        },
        {
          "data": {"name": "note"},
          "mark": {"type": "text", "font": "DejaVu Sans", "fontSize": 22, "align": "center", "baseline": "alphabetic", "color": "black"},
          "encoding": {
            "text": {"field": "label", "type": "nominal"},
            "x": {"datum": 759, "type": "quantitative", "axis": {"orient": "top", "title": null, "labels": false, "grid": false, "values": [400, 450, 500, 550, 600, 650, 700, 750, 800, 850, 900, 950, 1000, 1050, 1100, 1150, 1200, 1250, 1300, 1350, 1400, 1450, 1500, 1550, 1600]}},
            "y": {"datum": 5.1e-5, "type": "quantitative", "axis": {"orient": "right", "title": null, "labels": false, "grid": false, "tickSize": -4, "values": [1e-5, 2e-5, 3e-5, 4e-5, 5e-5, 6e-5, 7e-5, 8e-5, 9e-5, 1e-4, 2e-4, 3e-4, 4e-4, 5e-4, 6e-4, 7e-4, 8e-4, 9e-4, 1e-3, 2e-3, 3e-3, 4e-3, 5e-3, 6e-3, 7e-3, 8e-3, 9e-3, 1e-2, 2e-2, 3e-2, 4e-2, 5e-2, 6e-2, 7e-2, 8e-2, 9e-2, 0.1, 0.2, 0.3, 0.4, 0.5, 0.6, 0.7, 0.8, 0.9, 1, 2, 3, 4, 5, 6, 7, 8, 9, 10, 20, 30, 40, 50, 60, 70, 80, 90, 100, 200, 300, 400, 500, 600, 700, 800, 900, 1000]}}
          }
        }
      ]
    },
    {
      "width": 555,
      "height": 430,
      "resolve": {"axis": {"x": "independent", "y": "independent"}},
      "layer": [
        {
          "data": {"name": "spec"},
          "mark": {"type": "line", "strokeWidth": 2.5, "clip": true},
          "encoding": {
            "x": {
              "field": "wl", "type": "quantitative",
              "scale": {"domain": [1, 20], "nice": false, "zero": false},
              "axis": {
                "orient": "bottom", "title": "wavelength [μm]",
                "values": [1, 2, 3, 4, 5, 10, 15, 20],
                "labelExpr": "datum.value == 15 ? '' : datum.label",
                "grid": true, "labelFlush": false, "labelOverlap": false, "titlePadding": 6
              }
            },
            "y": {
              "field": "F", "type": "quantitative",
              "scale": {"domain": [0, 2.8], "nice": false},
              "axis": {
                "orient": "left", "title": "flux planet / flux star [10⁻³]",
                "values": [0, 0.5, 1, 1.5, 2, 2.5], "format": ".1f",
                "grid": true, "labelFlush": false, "labelOverlap": false, "labelPadding": 11, "titlePadding": 10
              }
            },
            "color": {
              "field": "s", "type": "nominal",
              "scale": {"domain": ["Miller-Ricci+, 2010", "HELIOS", "HELIOS, art. shortw.", "blackbody, 660 K"], "range": ["#ffa500", "#ff4500", "#008000", "#1e90ff"]},
              "legend": {"legendX": 291, "legendY": 299}
            },
            "strokeDash": {
              "field": "s", "type": "nominal",
              "scale": {"domain": ["Miller-Ricci+, 2010", "HELIOS", "HELIOS, art. shortw.", "blackbody, 660 K"], "range": [[1, 0], [1, 0], [7, 5], [2, 3]]},
              "legend": {"legendX": 291, "legendY": 299}
            }
          }
        },
        {
          "data": {"name": "note"},
          "mark": {"type": "text", "font": "DejaVu Sans", "fontSize": 22, "align": "center", "baseline": "alphabetic", "color": "black"},
          "encoding": {
            "text": {"field": "label", "type": "nominal"},
            "x": {"datum": 7.64, "type": "quantitative", "axis": {"orient": "top", "title": null, "labels": false, "grid": false, "values": [1, 2, 3, 4, 5, 10, 15, 20]}},
            "y": {"datum": 2.549, "type": "quantitative", "axis": {"orient": "right", "title": null, "labels": false, "grid": false, "values": [0, 0.5, 1, 1.5, 2, 2.5]}}
          }
        }
      ]
    }
  ]
}
